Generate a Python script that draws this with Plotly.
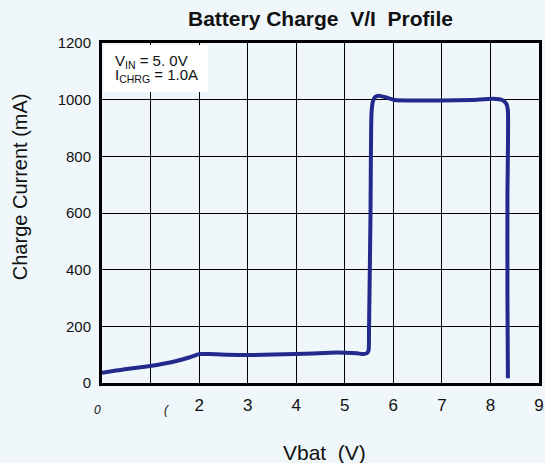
import plotly.graph_objects as go

# Data
vbat = [0.00, 0.44, 0.99, 1.47, 1.81, 2.00, 2.20, 3.00, 4.00, 4.70, 5.00, 5.25, 5.38, 5.46,
        5.49, 5.50, 5.53, 5.55, 5.58, 5.63, 5.70, 5.85, 6.03, 7.00, 7.63, 8.05, 8.25, 8.33,
        8.36, 8.35, 8.35, 8.36]
current = [36, 48, 60, 75, 91, 102, 102, 99, 102, 107, 107, 105, 102, 106,
           115, 200, 600, 950, 995, 1010, 1014, 1008, 999, 997, 999, 1003, 998, 985,
           960, 660, 300, 17]

x_tick_vals = [2, 3, 4, 5, 6, 7, 8, 9]
x_tick_text = ["2", "3", "4", "5", "6", "7", "8", "9"]
y_tick_vals = [0, 200, 400, 600, 800, 1000, 1200]
y_tick_text = ["0", "200", "400", "600", "800", "1000", "1200"]

title_text = "Battery Charge  V/I  Profile"
x_title = "Vbat  (V)"
y_title = "Charge Current (mA)"
info_lines = ["V<sub>IN</sub> = 5. 0V", "I<sub>CHRG</sub> = 1.0A"]

BG = "#f0f7fa"
FONT = "Liberation Sans, Arial, sans-serif"
INK = "#111111"

fig = go.Figure()
fig.add_trace(go.Scatter(
    x=vbat, y=current, mode="lines",
    line=dict(color="#222a8c", width=4, shape="spline", smoothing=0.5),
    hoverinfo="skip", showlegend=False,
))

fig.update_layout(
    width=545, height=463,
    margin=dict(l=102, r=6, t=43, b=80, autoexpand=False),
    paper_bgcolor=BG, plot_bgcolor=BG,
    font=dict(family=FONT, color=INK),
    showlegend=False,
)
fig.update_xaxes(
    range=[0, 9], tickmode="array", tickvals=x_tick_vals, ticktext=x_tick_text,
    showgrid=True, gridcolor="#000000", gridwidth=1.2,
    minor=dict(tickmode="linear", tick0=0, dtick=1, showgrid=True,
               gridcolor="#000000", gridwidth=1.2, ticks=""),
    showline=True, linecolor="#000000", linewidth=3, mirror=True,
    ticks="", tickfont=dict(size=17, color=INK), ticklabelstandoff=5,
    zeroline=False, automargin=False,
)
fig.update_yaxes(
    range=[0, 1200], tickvals=y_tick_vals, ticktext=y_tick_text,
    showgrid=True, gridcolor="#000000", gridwidth=1.2,
    showline=True, linecolor="#000000", linewidth=3, mirror=True,
    ticks="", tickfont=dict(size=15, color=INK), ticklabelstandoff=5,
    zeroline=False, automargin=False,
)

# white info box
fig.add_shape(type="rect", xref="paper", yref="paper",
              x0=0.005, x1=0.2426, y0=0.856, y1=0.994,
              fillcolor="white", line=dict(width=0), layer="above")
fig.add_annotation(xref="paper", yref="paper", x=0.025, y=0.947, xanchor="left", yanchor="middle",
                   text=info_lines[0], showarrow=False, font=dict(size=15, color=INK))
fig.add_annotation(xref="paper", yref="paper", x=0.025, y=0.904, xanchor="left", yanchor="middle",
                   text=info_lines[1], showarrow=False, font=dict(size=15, color=INK))

# quirky first two x tick labels
fig.add_annotation(xref="paper", yref="paper", x=-0.0114, y=-0.079, xanchor="center", yanchor="middle",
                   text="<i>0</i>", showarrow=False, font=dict(size=12, color=INK))
fig.add_annotation(xref="paper", yref="paper", x=0.1476, y=-0.079, xanchor="center", yanchor="middle",
                   text="<i>(</i>", showarrow=False, font=dict(size=12, color=INK))

# title and axis titles
fig.add_annotation(xref="paper", yref="paper", x=0.5, y=1.0735, xanchor="center", yanchor="middle",
                   text="<b>" + title_text + "</b>", showarrow=False, font=dict(size=21, color=INK))
fig.add_annotation(xref="paper", yref="paper", x=0.510, y=-0.203, xanchor="center", yanchor="middle",
                   text=x_title, showarrow=False, font=dict(size=21, color=INK))
fig.add_annotation(xref="paper", yref="paper", x=-0.186, y=0.578, xanchor="center", yanchor="middle",
                   text=y_title, textangle=-90, showarrow=False, font=dict(size=20, color=INK))

fig.write_html("out.html", config={"displayModeBar": False},
               post_script="document.body.style.margin='0';document.body.style.overflow='hidden';")
